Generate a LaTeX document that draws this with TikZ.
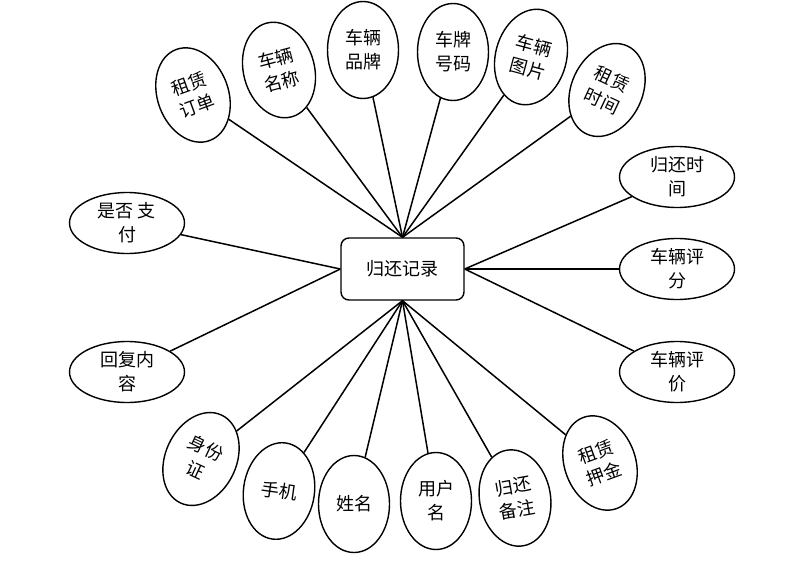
\documentclass[tikz,border=0pt]{standalone}
\usepackage{fontspec}
\setmainfont{Noto Sans CJK SC}
\usetikzlibrary{shapes.geometric}
\newcommand\mkattr[5]{%
  \node[#5,rotate=#3] (#1) at (#2) {};
  \node[lbl,rotate=#3] (#1t) at (#1) {#4};}
\begin{document}
\begin{tikzpicture}[x=1pt,y=-1pt,
  vattr/.style={draw,ellipse,line width=1.4pt,minimum width=71pt,minimum height=97pt,inner sep=0pt},
  hattr/.style={draw,ellipse,line width=1.4pt,minimum width=115pt,minimum height=61pt,inner sep=0pt},
  lbl/.style={inner sep=0pt,align=center,font=\fontsize{18}{24}\selectfont},
  link/.style={line width=1.5pt},
  entity/.style={draw,rounded corners=8pt,line width=1.4pt,minimum width=123pt,minimum height=62pt,inner sep=0pt,font=\fontsize{18}{24}\selectfont}]
\useasboundingbox (0,0) rectangle (794,562);
\node[entity] (c) at (402.5,269) {归还记录};
% top
\mkattr{e1}{193,95}{20}{租赁\\订单}{vattr}
\mkattr{e2}{279,70}{15}{车辆\\名称}{vattr}
\mkattr{e3}{363,50}{0}{车辆\\品牌}{vattr}
\mkattr{e4}{453,52}{0}{车牌\\号码}{vattr}
\mkattr{e5}{531,57}{-15}{车辆\\图片}{vattr}
\mkattr{e6}{607,90}{-25}{租赁\\时间}{vattr}
% right
\mkattr{e7}{677,177}{0}{归还时\\间}{hattr}
\mkattr{e8}{677,269}{0}{车辆评\\分}{hattr}
\mkattr{e9}{677,372}{0}{车辆评\\价}{hattr}
% left
\mkattr{e10}{127,223}{0}{是否 支\\付}{hattr}
\mkattr{e11}{127,372}{0}{回复内\\容}{hattr}
% bottom
\mkattr{e12}{201,459}{-25}{身份\\证}{vattr}
\mkattr{e13}{279,491}{-8}{手机}{vattr}
\mkattr{e14}{354,504}{0}{姓名}{vattr}
\mkattr{e15}{436,501}{0}{用户\\名}{vattr}
\mkattr{e16}{515,498}{10}{归还\\备注}{vattr}
\mkattr{e17}{600,463}{20}{租赁\\押金}{vattr}
% connectors
\foreach \e in {e1,e2,e3,e4,e5,e6} \draw[link] (c.north) -- (\e);
\foreach \e in {e7,e8,e9} \draw[link] (c.east) -- (\e);
\foreach \e in {e10,e11} \draw[link] (c.west) -- (\e);
\foreach \e in {e12,e13,e14,e15,e16,e17} \draw[link] (c.south) -- (\e);
\end{tikzpicture}
\end{document}
